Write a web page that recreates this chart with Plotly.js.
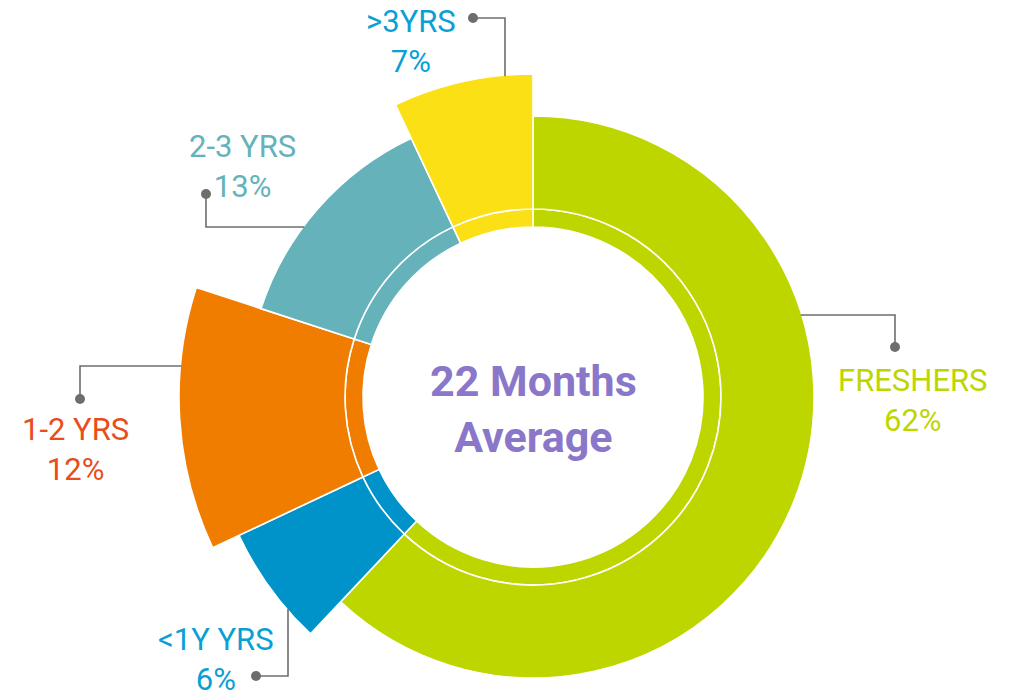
<!DOCTYPE html>
<html>
<head>
<meta charset="utf-8">
<script src="https://cdn.plot.ly/plotly-3.0.1.min.js"></script>
<style>
html,body{margin:0;padding:0;background:#fff;overflow:hidden;width:1018px;height:694px;}
#chart{width:1018px;height:760px;}
</style>
</head>
<body>
<div id="chart"></div>
<script>
// ---- data ----
const categories = ['FRESHERS', '<1Y YRS', '1-2 YRS', '2-3 YRS', '>3YRS'];
const shares = [62, 6, 12, 13, 7];            // percent
const outerRadius = [281, 325, 354, 286, 323]; // radial length of each slice
const centerLines = ['22 Months', 'Average'];

// ---- styles ----
const sliceColors = ['#bed600', '#0093c9', '#f07d00', '#66b2ba', '#fce016'];
const labelColors = ['#bed600', '#0a9fd5', '#e84e1b', '#66b2ba', '#0a9fd5'];

const W = 1018, H = 760;
const CX = 533, CY = 397, RMAX = 355;
const HOLE = 170, RING = 188;

// angular positions from shares
let cum = 0;
const thetas = [], widths = [];
shares.forEach(s => { thetas.push((cum + s / 2) * 3.6); widths.push(s * 3.6); cum += s; });

const innerTrace = {
  type: 'barpolar',
  theta: thetas, width: widths,
  base: shares.map(() => HOLE),
  r: shares.map(() => RING - HOLE),
  marker: {color: sliceColors, line: {color: '#ffffff', width: 1.6}},
  hoverinfo: 'skip', showlegend: false
};
const outerTrace = {
  type: 'barpolar',
  theta: thetas, width: widths,
  base: shares.map(() => RING),
  r: outerRadius.map(v => v - RING),
  marker: {color: sliceColors, line: {color: '#ffffff', width: 1.6}},
  text: categories, hoverinfo: 'text', showlegend: false
};

const px = x => x / W;
const py = y => 1 - y / H;

const leaders = [
  {i: 0, mode: 'h', y: 315, side: 1, elbowX: 895, dotY: 347, label: [913, 400]},
  {i: 1, mode: 'v', x: 288, side: 1, elbowY: 676, dotX: 256, label: [216, 659]},
  {i: 2, mode: 'h', y: 366, side: -1, elbowX: 80, dotY: 399, label: [75, 449]},
  {i: 3, mode: 'h', y: 227, side: -1, elbowX: 206, dotY: 194, label: [242, 166]},
  {i: 4, mode: 'v', x: 505, side: -1, elbowY: 18, dotX: 473, label: [411, 42]}
];

const shapes = [];
const annotations = [];
const lineStyle = {color: '#6d6d6d', width: 1.6};
const esc = s => s.replace(/</g, '&lt;').replace(/>/g, '&gt;');

leaders.forEach(L => {
  const R = outerRadius[L.i] - 1;
  let pts;
  if (L.mode === 'h') {
    const x0 = CX + L.side * Math.sqrt(R * R - (L.y - CY) * (L.y - CY));
    pts = [[x0, L.y], [L.elbowX, L.y], [L.elbowX, L.dotY]];
  } else {
    const y0 = CY + L.side * Math.sqrt(R * R - (L.x - CX) * (L.x - CX));
    pts = [[L.x, y0], [L.x, L.elbowY], [L.dotX, L.elbowY]];
  }
  const path = 'M' + pts.map(p => px(p[0]) + ',' + py(p[1])).join(' L');
  shapes.push({type: 'path', xref: 'paper', yref: 'paper', path: path, line: lineStyle});
  const d = pts[2], rr = 5;
  shapes.push({type: 'circle', xref: 'paper', yref: 'paper',
    x0: px(d[0] - rr), x1: px(d[0] + rr), y0: py(d[1] + rr), y1: py(d[1] - rr),
    fillcolor: '#6d6d6d', line: {width: 0}});
  annotations.push({
    xref: 'paper', yref: 'paper', x: px(L.label[0]), y: py(L.label[1]),
    xanchor: 'center', yanchor: 'middle', showarrow: false, align: 'center',
    text: esc(categories[L.i]) + '<br>' + shares[L.i] + '%',
    font: {family: 'Roboto', size: 31, color: labelColors[L.i]}
  });
});

annotations.push({
  xref: 'paper', yref: 'paper', x: px(CX), y: py(409),
  xanchor: 'center', yanchor: 'middle', showarrow: false, align: 'center',
  text: '<b>' + centerLines.join('<br>') + '</b>',
  font: {family: 'Roboto', size: 43, color: '#8a77c9'}
});

const layout = {
  width: W, height: H,
  margin: {l: 0, r: 0, t: 0, b: 0},
  paper_bgcolor: '#ffffff', plot_bgcolor: '#ffffff',
  showlegend: false,
  polar: {
    domain: {x: [px(CX - RMAX), px(CX + RMAX)], y: [py(CY + RMAX), py(CY - RMAX)]},
    bgcolor: 'rgba(0,0,0,0)',
    bargap: 0,
    radialaxis: {range: [0, RMAX], visible: false, showgrid: false, showline: false, showticklabels: false, ticks: ''},
    angularaxis: {rotation: 90, direction: 'clockwise', visible: false, showgrid: false, showline: false, showticklabels: false, ticks: ''}
  },
  shapes: shapes,
  annotations: annotations
};

Plotly.newPlot('chart', [innerTrace, outerTrace], layout, {displayModeBar: false, responsive: false});
</script>
</body>
</html>
